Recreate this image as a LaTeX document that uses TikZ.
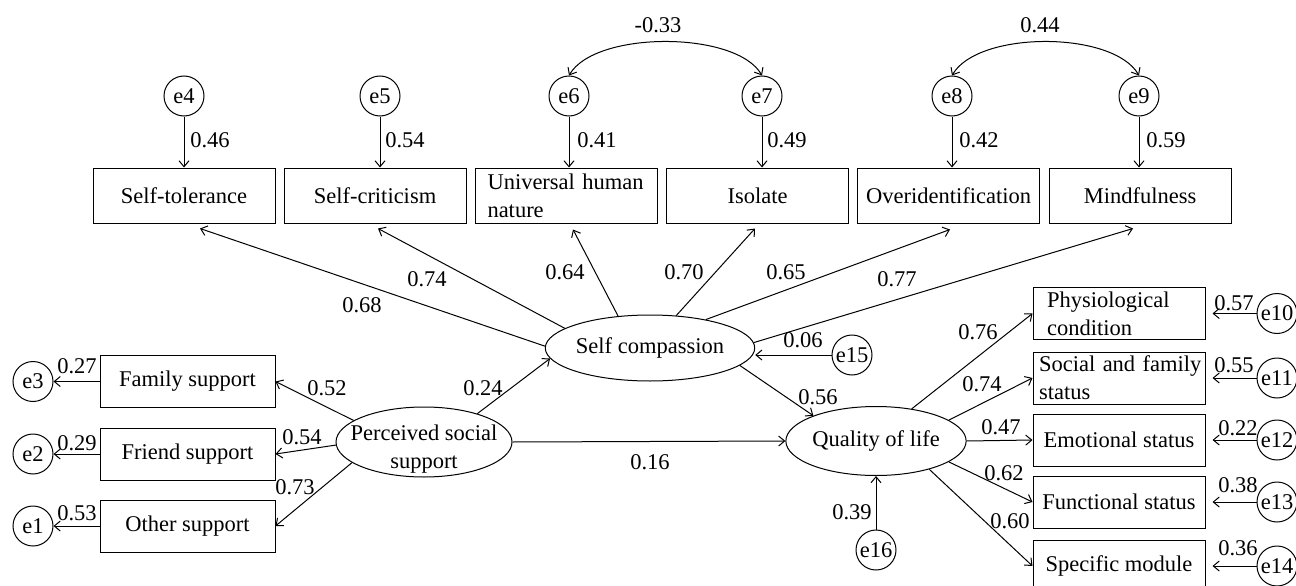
\documentclass[tikz,border=0pt]{standalone}
\usepackage{fontspec}
\setmainfont{Liberation Serif}
\usetikzlibrary{shapes.geometric,arrows.meta}
\begin{document}
\begin{tikzpicture}[x=1pt,y=-1pt,
  every node/.style={font=\fontsize{22.5}{28}\selectfont},
  box/.style={draw, line width=1pt, rectangle, inner sep=0pt, minimum width=182pt, minimum height=55pt},
  lbox/.style={box, minimum width=175pt, minimum height=52pt},
  rbox/.style={box, minimum width=172pt, minimum height=52pt},
  err/.style={draw, line width=1pt, circle, inner sep=0pt, minimum size=40pt},
  lat/.style={draw, line width=1pt, ellipse, inner sep=0pt},
  arr/.style={line width=1pt, -{Straight Barb[length=6pt,width=10pt]}},
  cov/.style={line width=1pt, {Straight Barb[length=6pt,width=10pt]}-{Straight Barb[length=6pt,width=10pt]}},
  lbl/.style={inner sep=0pt}
]
\useasboundingbox (0,0) rectangle (1296,586);

% ---- top indicator boxes ----
\node[box] (st)  at (184,195.5)   {Self-tolerance};
\node[box] (scb) at (375,195.5)   {Self-criticism};
\node[box, text width=158pt, align=left] (uhn) at (566.5,195.5) {\mbox{Universal human}\\nature};
\node[box] (iso) at (757.5,195.5) {Isolate};
\node[box] (ovi) at (948.5,195.5) {Overidentification};
\node[box] (mind) at (1140,195.5) {Mindfulness};

% ---- top error terms ----
\node[err] (e4) at (184,96) {e4};
\node[err] (e5) at (380,96) {e5};
\node[err] (e6) at (569,96) {e6};
\node[err] (e7) at (762,96) {e7};
\node[err] (e8) at (952,96) {e8};
\node[err] (e9) at (1139,96) {e9};

% ---- latent variables ----
\node[lat, minimum width=174pt, minimum height=66pt] (sc) at (650,348) {Self compassion};
\node[lat, minimum width=174pt, minimum height=69pt] (qol) at (876,441) {Quality of life};
\node[lat, minimum width=176pt, minimum height=70pt] (pss) at (424,442) {};
\node[lbl, align=center] (psst) at (424,449) {Perceived social\\support};

\node[err] (e15) at (852,355) {e15};
\node[err] (e16) at (876,550) {e16};

% ---- left boxes ----
\node[lbox] (fam) at (187.5,381.5) {Family support};
\node[lbox] (fri) at (187.5,454)   {Friend support};
\node[lbox] (oth) at (187.5,526)   {Other support};
\node[err] (e3) at (33,381.5) {e3};
\node[err] (e2) at (33,454) {e2};
\node[err] (e1) at (33,526) {e1};

% ---- right boxes ----
\node[rbox, text width=144pt, align=left] (phys) at (1119,313.5) {\mbox{Physiological}\\condition};
\node[rbox, text width=160pt, align=left] (soc) at (1119,378) {\mbox{Social and family}\\status};
\node[rbox] (emo) at (1119,440) {Emotional status};
\node[rbox] (fun) at (1119,502) {Functional status};
\node[rbox] (spe) at (1119,566) {Specific module};
\node[err] (e10) at (1277,313.5) {e10};
\node[err] (e11) at (1277,378) {e11};
\node[err] (e12) at (1277,440) {e12};
\node[err] (e13) at (1277,502) {e13};
\node[err] (e14) at (1277,566) {e14};

% ---- error -> top boxes ----
\draw[arr] (e4) -- (e4 |- st.north) node[lbl] at (210,140) {0.46};
\draw[arr] (e5) -- (e5 |- scb.north) node[lbl] at (405,140) {0.54};
\draw[arr] (e6) -- (e6 |- uhn.north) node[lbl] at (597,140) {0.41};
\draw[arr] (e7) -- (e7 |- iso.north) node[lbl] at (787,140) {0.49};
\draw[arr] (e8) -- (e8 |- ovi.north) node[lbl] at (979,140) {0.42};
\draw[arr] (e9) -- (e9 |- mind.north) node[lbl] at (1166,140) {0.59};

% ---- covariances ----
\draw[cov] (e6.north) .. controls +(26,-45) and +(-26,-45) .. (e7.north) node[lbl] at (658,25) {-0.33};
\draw[cov] (e8.north) .. controls +(26,-45) and +(-26,-45) .. (e9.north) node[lbl] at (1040,25) {0.44};

% ---- self compassion loadings ----
\draw[arr] (sc.179) -- ([shift={(16,5)}]st.south) node[lbl] at (362,305) {0.68};
\draw[arr] (sc.167) -- ([shift={(3,5)}]scb.south) node[lbl] at (427,279) {0.74};
\draw[arr] (sc.135) -- ([shift={(6.5,6)}]uhn.south) node[lbl] at (565,272) {0.64};
\draw[arr] (sc.51) -- ([shift={(-2.5,5)}]iso.south) node[lbl] at (684,272) {0.70};
\draw[arr] (sc.27) -- ([shift={(1.5,6)}]ovi.south) node[lbl] at (786,272) {0.65};
\draw[arr] (sc.3) -- ([shift={(-7,5)}]mind.south) node[lbl] at (897,279) {0.77};

\draw[arr] (e15) -- (e15 -| sc.east) node[lbl] at (803,340) {0.06};
\draw[arr] (sc.-11) -- (qol.158) node[lbl] at (818,397) {0.56};

% ---- perceived social support paths ----
\draw[arr] (pss.28) -- (sc.186) node[lbl] at (483,388) {0.24};
\draw[arr] (pss.east) -- (qol.west) node[lbl] at (650,462) {0.16};
\draw[arr] (pss.163) -- (fam.east) node[lbl] at (327,388) {0.52};
\draw[arr] (pss.182) -- (fri.east) node[lbl] at (302,437) {0.54};
\draw[arr] (pss.196) -- (oth.east) node[lbl] at (295,487) {0.73};

\draw[arr] (fam.west) -- (e3) node[lbl] at (77,366) {0.27};
\draw[arr] (fri.west) -- (e2) node[lbl] at (77,443) {0.29};
\draw[arr] (oth.west) -- (e1) node[lbl] at (77,513) {0.53};

% ---- quality of life paths ----
\draw[arr] (e16) -- (qol) node[lbl] at (852,512) {0.39};
\draw[arr] (qol.42) -- (phys.west) node[lbl] at (978,332) {0.76};
\draw[arr] (qol.16) -- (soc.west) node[lbl] at (982,384) {0.74};
\draw[arr] (qol.east) -- (emo.west) node[lbl] at (1001,427) {0.47};
\draw[arr] (qol.-16) -- (fun.west) node[lbl] at (1004,473) {0.62};
\draw[arr] (qol.-28) -- (spe.west) node[lbl] at (1010,521) {0.60};

\draw[arr] (e10) -- ([xshift=7pt]phys.east) node[lbl] at (1234,303) {0.57};
\draw[arr] (e11) -- ([xshift=7pt]soc.east) node[lbl] at (1234,365) {0.55};
\draw[arr] (e12) -- ([xshift=7pt]emo.east) node[lbl] at (1238,428) {0.22};
\draw[arr] (e13) -- ([xshift=7pt]fun.east) node[lbl] at (1238,485) {0.38};
\draw[arr] (e14) -- ([xshift=7pt]spe.east) node[lbl] at (1238,548) {0.36};
\end{tikzpicture}
\end{document}
